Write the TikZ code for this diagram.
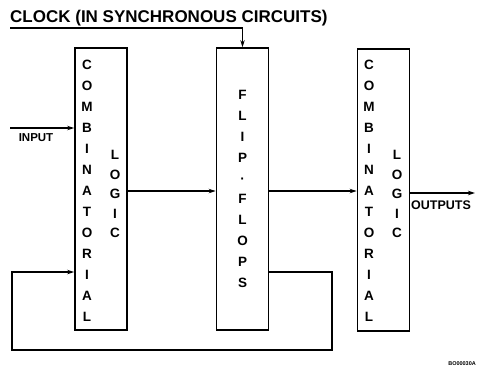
\documentclass[tikz,border=0pt]{standalone}
\usepackage{fontspec}
\setmainfont{Liberation Sans}
\usetikzlibrary{arrows.meta}
\tikzset{
  block/.style={draw, line width=1.8pt, minimum width=52pt, minimum height=282pt, inner sep=0pt},
  wire/.style={line width=1.2pt},
  arr/.style={wire, -{Stealth[length=7pt,width=4.5pt]}},
  col/.style={align=center, inner sep=0pt, font=\bfseries\fontsize{13.5}{#1}\selectfont},
  lbl/.style={inner sep=0pt, font=\bfseries\fontsize{#1}{#1}\selectfont}
}
\begin{document}
\begin{tikzpicture}[x=1pt,y=-1pt]
\useasboundingbox (0,0) rectangle (486,368);
% blocks
\node[block] (cl1) at (101,189) {};
\node[block] (ff) at (242.5,189) {};
\node[block] (cl2) at (383.5,190) {};
% block texts
\node[col=21] (t1a) at (87,191) {C\\O\\M\\B\\I\\N\\A\\T\\O\\R\\I\\A\\L};
\node[col=19.5] (t1b) at (115,194) {L\\O\\G\\I\\C};
\node[col=20.8] (t2) at (242.5,189) {F\\L\\I\\P\\·\\F\\L\\O\\P\\S};
\node[col=21] (t3a) at (369,191) {C\\O\\M\\B\\I\\N\\A\\T\\O\\R\\I\\A\\L};
\node[col=19.5] (t3b) at (397,194) {L\\O\\G\\I\\C};
% labels
\node[lbl=17, anchor=base west] (title) at (10,22) {CLOCK (IN SYNCHRONOUS CIRCUITS)};
\node[lbl=11.5] (inlbl) at (36,138) {INPUT};
\node[lbl=12.5] (outlbl) at (441,205) {OUTPUTS};
\node[lbl=5.5, anchor=base east] (fig) at (476,365) {BO00030A};
% coordinates
\coordinate (clk) at (10,28);
\coordinate (in) at (10,128);
\coordinate (out) at (475,193);
\coordinate (fbA) at (332,272);
\coordinate (fbB) at (332,350);
\coordinate (fbC) at (12,350);
\coordinate (fbD) at (12,272);
% connectors
\draw[arr] (clk) -| (ff.north);
\draw[arr] (in) -- (in -| cl1.west);
\draw[arr] (cl1.east |- 0,191) -- (ff.west |- 0,191);
\draw[arr] (ff.east |- 0,191) -- (cl2.west |- 0,191);
\draw[arr] (cl2.east |- out) -- (out);
\draw[arr] (ff.east |- fbA) -- (fbA) -- (fbB) -- (fbC) -- (fbD) -- (fbD -| cl1.west);
\end{tikzpicture}
\end{document}
